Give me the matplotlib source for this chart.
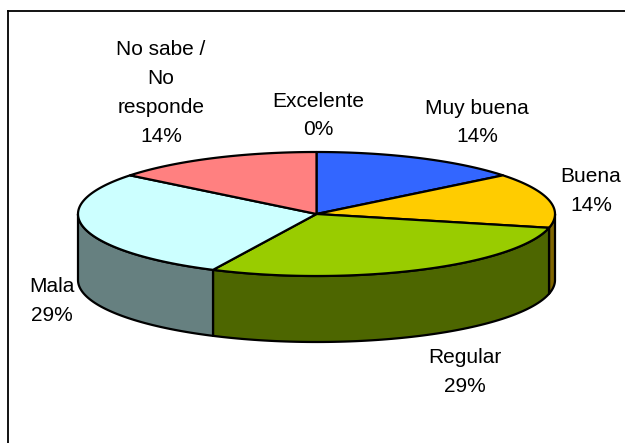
import numpy as np
import matplotlib
matplotlib.use("Agg")
import matplotlib.pyplot as plt
from matplotlib.colors import to_rgb

# Data
categories = ["Excelente", "Muy buena", "Buena", "Regular", "Mala", "No sabe /\nNo\nresponde"]
values = [0.0, 14.3, 14.3, 28.6, 28.6, 14.3]
top_colors = ["#9999FF", "#3366FF", "#FFCC00", "#99CC00", "#CCFFFF", "#FF8080"]

# Layout in pixels
W, H = 625, 443
CX, CY, RX, RY, DEPTH = 316.5, 214, 238.5, 62, 66
label_pos = [(318, 115.5), (477, 122.5), (591, 191), (465, 372), (52, 301), (161, 93)]

plt.rcParams["font.family"] = ["Liberation Sans", "DejaVu Sans"]
fig = plt.figure(figsize=(W / 100, H / 100), dpi=100, facecolor="white")
ax = fig.add_axes([8 / W, 0, (W - 8) / W, (H - 10.5) / H])
ax.set_xlim(8, W)
ax.set_ylim(H, 10.5)
ax.set_xticks([])
ax.set_yticks([])
for side in ("right", "bottom"):
    ax.spines[side].set_visible(False)
for side in ("left", "top"):
    ax.spines[side].set_linewidth(1.3)
    ax.spines[side].set_color("black")


def pt(theta, dy=0.0):
    """Clockwise angle from 12 o'clock, in radians, to a point on the rim."""
    return CX + RX * np.sin(theta), CY - RY * np.cos(theta) + dy


edges = np.concatenate([[0], np.cumsum(values)]) / np.sum(values) * 2 * np.pi
LW = 1.6

# Side walls (front half of the rim only)
for a, b, col in zip(edges[:-1], edges[1:], top_colors):
    lo, hi = max(a, np.pi / 2), min(b, 3 * np.pi / 2)
    if hi <= lo:
        continue
    t = np.linspace(lo, hi, 80)
    x, y = pt(t)
    x2, y2 = pt(t[::-1], DEPTH)
    wall = tuple(c * 0.5 for c in to_rgb(col))
    ax.fill(np.r_[x, x2], np.r_[y, y2], facecolor=wall, edgecolor="black",
            linewidth=LW, joinstyle="round", zorder=2)

# Top faces
for a, b, col in zip(edges[:-1], edges[1:], top_colors):
    if b <= a:
        continue
    t = np.linspace(a, b, 100)
    x, y = pt(t)
    ax.fill(np.r_[CX, x], np.r_[CY, y], facecolor=col, edgecolor="black",
            linewidth=LW, joinstyle="round", zorder=3)

# Labels
for name, val, (lx, ly) in zip(categories, values, label_pos):
    ax.text(lx, ly, f"{name}\n{round(val)}%", ha="center", va="center",
            fontsize=15, color="black", linespacing=1.66, zorder=5)

fig.savefig("out.png", dpi=100, facecolor="white")
